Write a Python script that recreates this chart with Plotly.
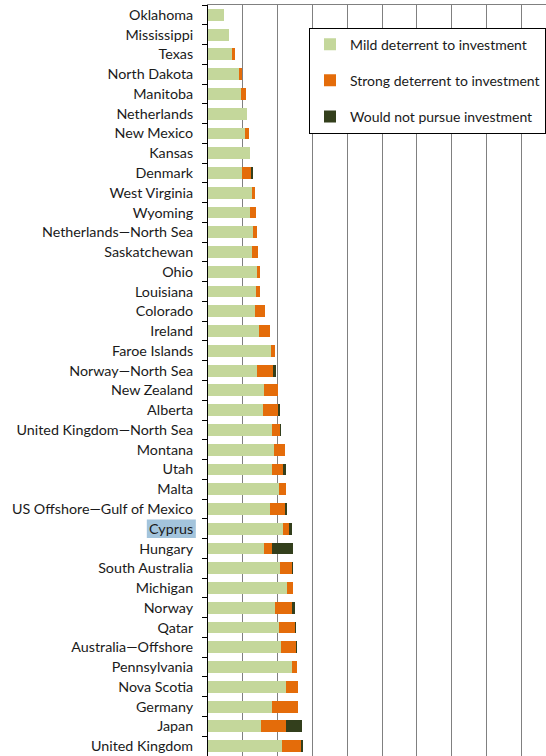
import plotly.graph_objects as go

categories = ["Oklahoma", "Mississippi", "Texas", "North Dakota", "Manitoba", "Netherlands",
              "New Mexico", "Kansas", "Denmark", "West Virginia", "Wyoming",
              "Netherlands—North Sea", "Saskatchewan", "Ohio", "Louisiana", "Colorado",
              "Ireland", "Faroe Islands", "Norway—North Sea", "New Zealand", "Alberta",
              "United Kingdom—North Sea", "Montana", "Utah", "Malta",
              "US Offshore—Gulf of Mexico", "Cyprus", "Hungary", "South Australia",
              "Michigan", "Norway", "Qatar", "Australia—Offshore", "Pennsylvania",
              "Nova Scotia", "Germany", "Japan", "United Kingdom"]

mild = [4.6, 6.1, 6.9, 8.8, 9.6, 11.2, 10.6, 12.1, 9.8, 12.7, 12.0, 12.9, 12.5, 14.0, 13.7,
        13.5, 14.7, 18.1, 14.2, 16.0, 15.7, 18.3, 19.0, 18.4, 20.4, 17.7, 21.6, 16.0, 20.6,
        22.7, 19.2, 20.4, 21.0, 24.1, 22.4, 18.3, 15.3, 21.3]
strong = [0.0, 0.0, 0.85, 0.9, 1.2, 0.0, 1.1, 0.0, 2.6, 0.8, 1.7, 1.2, 1.9, 0.8, 1.3,
          3.0, 3.2, 1.1, 4.5, 4.2, 4.5, 2.3, 3.0, 3.2, 2.1, 4.5, 1.6, 2.4, 3.5,
          1.8, 5.0, 4.5, 4.3, 1.5, 3.4, 7.6, 7.2, 5.5]
would_not = [0.0, 0.0, 0.0, 0.0, 0.0, 0.0, 0.0, 0.0, 0.5, 0.0, 0.0, 0.0, 0.0, 0.0, 0.0,
             0.0, 0.0, 0.0, 0.9, 0.0, 0.6, 0.5, 0.0, 0.7, 0.0, 0.5, 0.9, 6.1, 0.4,
             0.0, 0.8, 0.3, 0.3, 0.0, 0.0, 0.0, 4.5, 0.4]

series_names = ["Mild deterrent to investment", "Strong deterrent to investment",
                "Would not pursue investment"]
highlight = "Cyprus"

FONT = "Lato"
colors = ["#c4d79b", "#e46c0a", "#333f1c"]

fig = go.Figure()
for name, vals, col in zip(series_names, [mild, strong, would_not], colors):
    fig.add_trace(go.Bar(
        y=categories, x=vals, name=name, orientation="h",
        marker=dict(color=col, line=dict(width=0)),
        legendgroup=name,
    ))

n = len(categories)
idx = categories.index(highlight)
fig.add_shape(type="rect", xref="paper", yref="paper",
              x0=-0.181, x1=-0.036,
              y0=1 - (idx + 0.97) / n, y1=1 - (idx + 0.03) / n,
              fillcolor="#a3c4dc", line=dict(width=0), layer="below")

fig.update_layout(
    width=546, height=756,
    margin=dict(l=208, r=0, t=5, b=0),
    barmode="stack", bargap=0.4,
    paper_bgcolor="white", plot_bgcolor="white",
    font=dict(family=FONT, size=14.3, color="#1a1a1a"),
    showlegend=True,
    legend=dict(
        x=0.299, y=0.97, xanchor="left", yanchor="top",
        bgcolor="white", bordercolor="black", borderwidth=1,
        font=dict(family=FONT, size=14, color="#1a1a1a"),
        traceorder="grouped", tracegroupgap=15,
        itemwidth=30,
    ),
    xaxis=dict(
        range=[0, 97.1], dtick=10, side="top",
        showgrid=True, gridcolor="#808080", gridwidth=1,
        showline=True, linecolor="#808080", linewidth=1,
        showticklabels=False, ticks="", zeroline=False, fixedrange=True,
    ),
    yaxis=dict(
        categoryorder="array", categoryarray=categories, autorange="reversed",
        showline=True, linecolor="black", linewidth=1,
        ticks="outside", ticklen=5, tickcolor="black", tickwidth=1,
        tickson="boundaries", ticklabelstandoff=11,
        showgrid=False, zeroline=False, fixedrange=True,
    ),
)

fig.write_html("out.html", config={"displayModeBar": False, "staticPlot": True},
               post_script="document.body.style.margin='0';document.body.style.overflow='hidden';")
